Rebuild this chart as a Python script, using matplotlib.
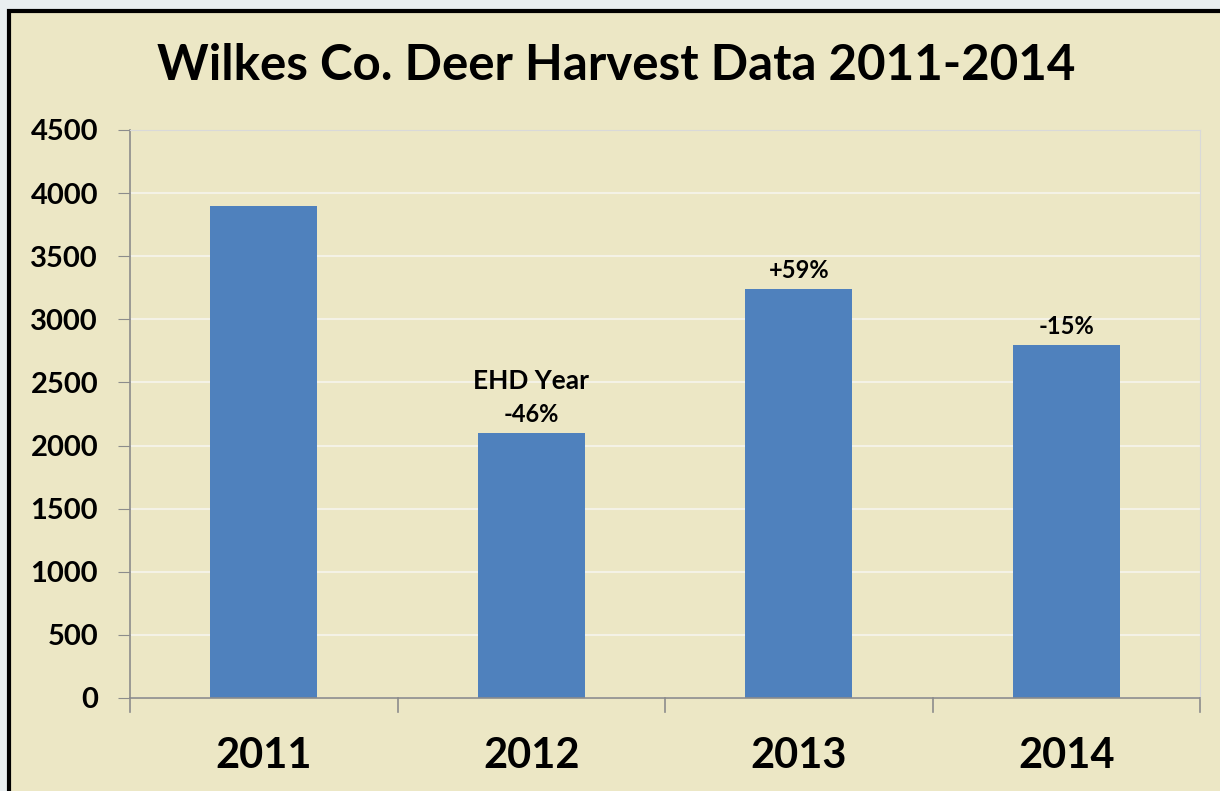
import matplotlib.pyplot as plt
from matplotlib.patches import Rectangle

# Data
years = ["2011", "2012", "2013", "2014"]
harvest = [3900, 2100, 3240, 2800]
bar_notes = ["", "EHD Year\n-46%", "+59%", "-15%"]
y_ticks = [0, 500, 1000, 1500, 2000, 2500, 3000, 3500, 4000, 4500]

bg = "#ece7c5"
bar_color = "#4f81bd"
plt.rcParams["font.family"] = ["Lato", "DejaVu Sans"]

fig = plt.figure(figsize=(12.2, 7.91), dpi=100, facecolor="#e9eef0")
W, H = 1220, 791

# chart frame (runs off the right/bottom edge like the screenshot)
frame = Rectangle((9 / W, -0.05), 1.1, (H - 10 - 1) / H + 0.05,
                  transform=fig.transFigure, facecolor=bg,
                  edgecolor="black", linewidth=3, zorder=-1)
fig.patches.append(frame)

ax = fig.add_axes([130 / W, 1 - 698 / H, (1200 - 130) / W, (698 - 130) / H])
ax.set_facecolor(bg)

x = range(len(years))
bars = ax.bar(x, harvest, width=0.4, color=bar_color, zorder=2)

ax.set_xlim(-0.5, len(years) - 0.5)
ax.set_ylim(0, 4500)
ax.set_yticks(y_ticks)
ax.set_yticklabels([str(t) for t in y_ticks], fontsize=21, fontweight="bold")
ax.set_xticks(list(x))
ax.set_xticklabels(years, fontsize=30, fontweight="bold")
ax.tick_params(axis="x", length=0, pad=28)
ax.tick_params(axis="y", length=9, color="#8c8c8c", pad=14)

# category separator ticks on the x axis
for b in [-0.5, 0.5, 1.5, 2.5, 3.5]:
    ax.plot([b, b], [0, -0.025], transform=ax.get_xaxis_transform(),
            color="#8c8c8c", lw=1.2, clip_on=False)

ax.grid(axis="y", color="#f4f2e6", lw=1.5, zorder=1)
for side in ["top", "right"]:
    ax.spines[side].set_color("#d9d9d9")
for side in ["left", "bottom"]:
    ax.spines[side].set_color("#8c8c8c")
    ax.spines[side].set_linewidth(1.2)

for rect, note in zip(bars, bar_notes):
    if not note:
        continue
    lines = note.split("\n")
    cx = rect.get_x() + rect.get_width() / 2
    top = rect.get_height()
    ax.annotate(lines[-1], (cx, top), xytext=(0, 5), textcoords="offset points",
                ha="center", va="bottom", fontsize=17, fontweight="bold")
    if len(lines) > 1:
        ax.annotate(lines[0], (cx, top), xytext=(0, 29), textcoords="offset points",
                    ha="center", va="bottom", fontsize=19, fontweight="bold")

fig.text(616 / W, 1 - 66 / H, "Wilkes Co. Deer Harvest Data 2011-2014",
         ha="center", va="center", fontsize=35.5, fontweight="bold")

fig.savefig("out.png", dpi=100, facecolor=fig.get_facecolor())
